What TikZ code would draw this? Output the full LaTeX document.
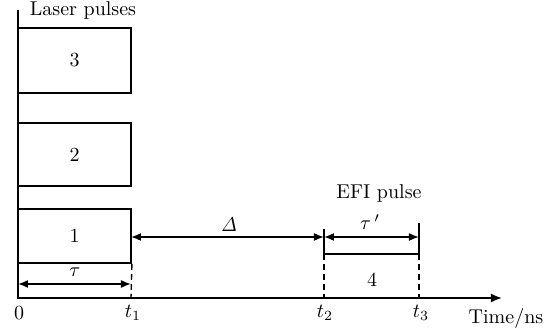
\documentclass[tikz,border=0pt]{standalone}
\usetikzlibrary{arrows.meta}
\begin{document}
\begin{tikzpicture}[x=0.5pt,y=-0.5pt,line width=0.9pt,
  pulsebox/.style={draw,line width=0.9pt,minimum width=56.5pt,inner sep=0pt,font=\normalsize},
  dim/.style={{Latex[length=5pt,width=4pt]}-{Latex[length=5pt,width=4pt]},line width=0.8pt},
  axisline/.style={-{Latex[length=5.5pt,width=4.5pt]},line width=0.9pt},
  guide/.style={dashed,dash pattern=on 3pt off 2pt,line width=0.7pt},
  lbl/.style={inner sep=1pt}]
\useasboundingbox (0,0) rectangle (548,330);
% axes
\coordinate (ytop) at (18,10);
\coordinate (O) at (18,298);
\coordinate (xend) at (502,298);
\draw[axisline] (ytop) -- (O) -- (xend);
% laser pulse boxes
\node[pulsebox,minimum height=32.5pt] (p3) at (74.5,60.5) {3};
\node[pulsebox,minimum height=31.5pt] (p2) at (74.5,154.5) {2};
\node[pulsebox,minimum height=27pt] (p1) at (74.5,236) {1};
% t1 guide
\coordinate (t1) at (131,298);
\draw[guide] (p1.south east) -- (t1);
% tau
\coordinate (ta) at (18,284);
\coordinate (tb) at (131,284);
\draw[dim] (ta) -- (tb);
\node[lbl] (taulbl) at (75,272) {$\tau$};
% EFI pulse
\coordinate (e2top) at (324,229);
\coordinate (e2) at (324,254);
\coordinate (e3top) at (419,223);
\coordinate (e3) at (419,254);
\coordinate (t2) at (324,298);
\coordinate (t3) at (419,298);
\draw (e2top) -- (e2) -- (e3);
\draw[line width=1.4pt] (e3top) -- (e3);
\draw[guide] (e2) -- (t2);
\draw[guide] (e3) -- (t3);
\node[lbl] (four) at (372,280) {4};
% Delta
\coordinate (da) at (131,237);
\coordinate (db) at (324,237);
\draw[dim] (da) -- (db);
\node[lbl] (dlbl) at (229,225) {$\mathit{\Delta}$};
% tau'
\coordinate (tpa) at (324,237);
\coordinate (tpb) at (419,237);
\draw[dim] (tpa) -- (tpb);
\node[lbl] (tplbl) at (370,222) {$\tau\,'$};
% labels
\node[lbl] (laser) at (83,11) {Laser pulses};
\node[lbl] (efi) at (379,194) {EFI pulse};
\node[lbl] (zero) at (19,313) {0};
\node[lbl] (t1l) at (133,313) {$t_1$};
\node[lbl] (t2l) at (325,313) {$t_2$};
\node[lbl] (t3l) at (421,313) {$t_3$};
\node[lbl] (timel) at (506,319) {Time/ns};
\end{tikzpicture}
\end{document}
